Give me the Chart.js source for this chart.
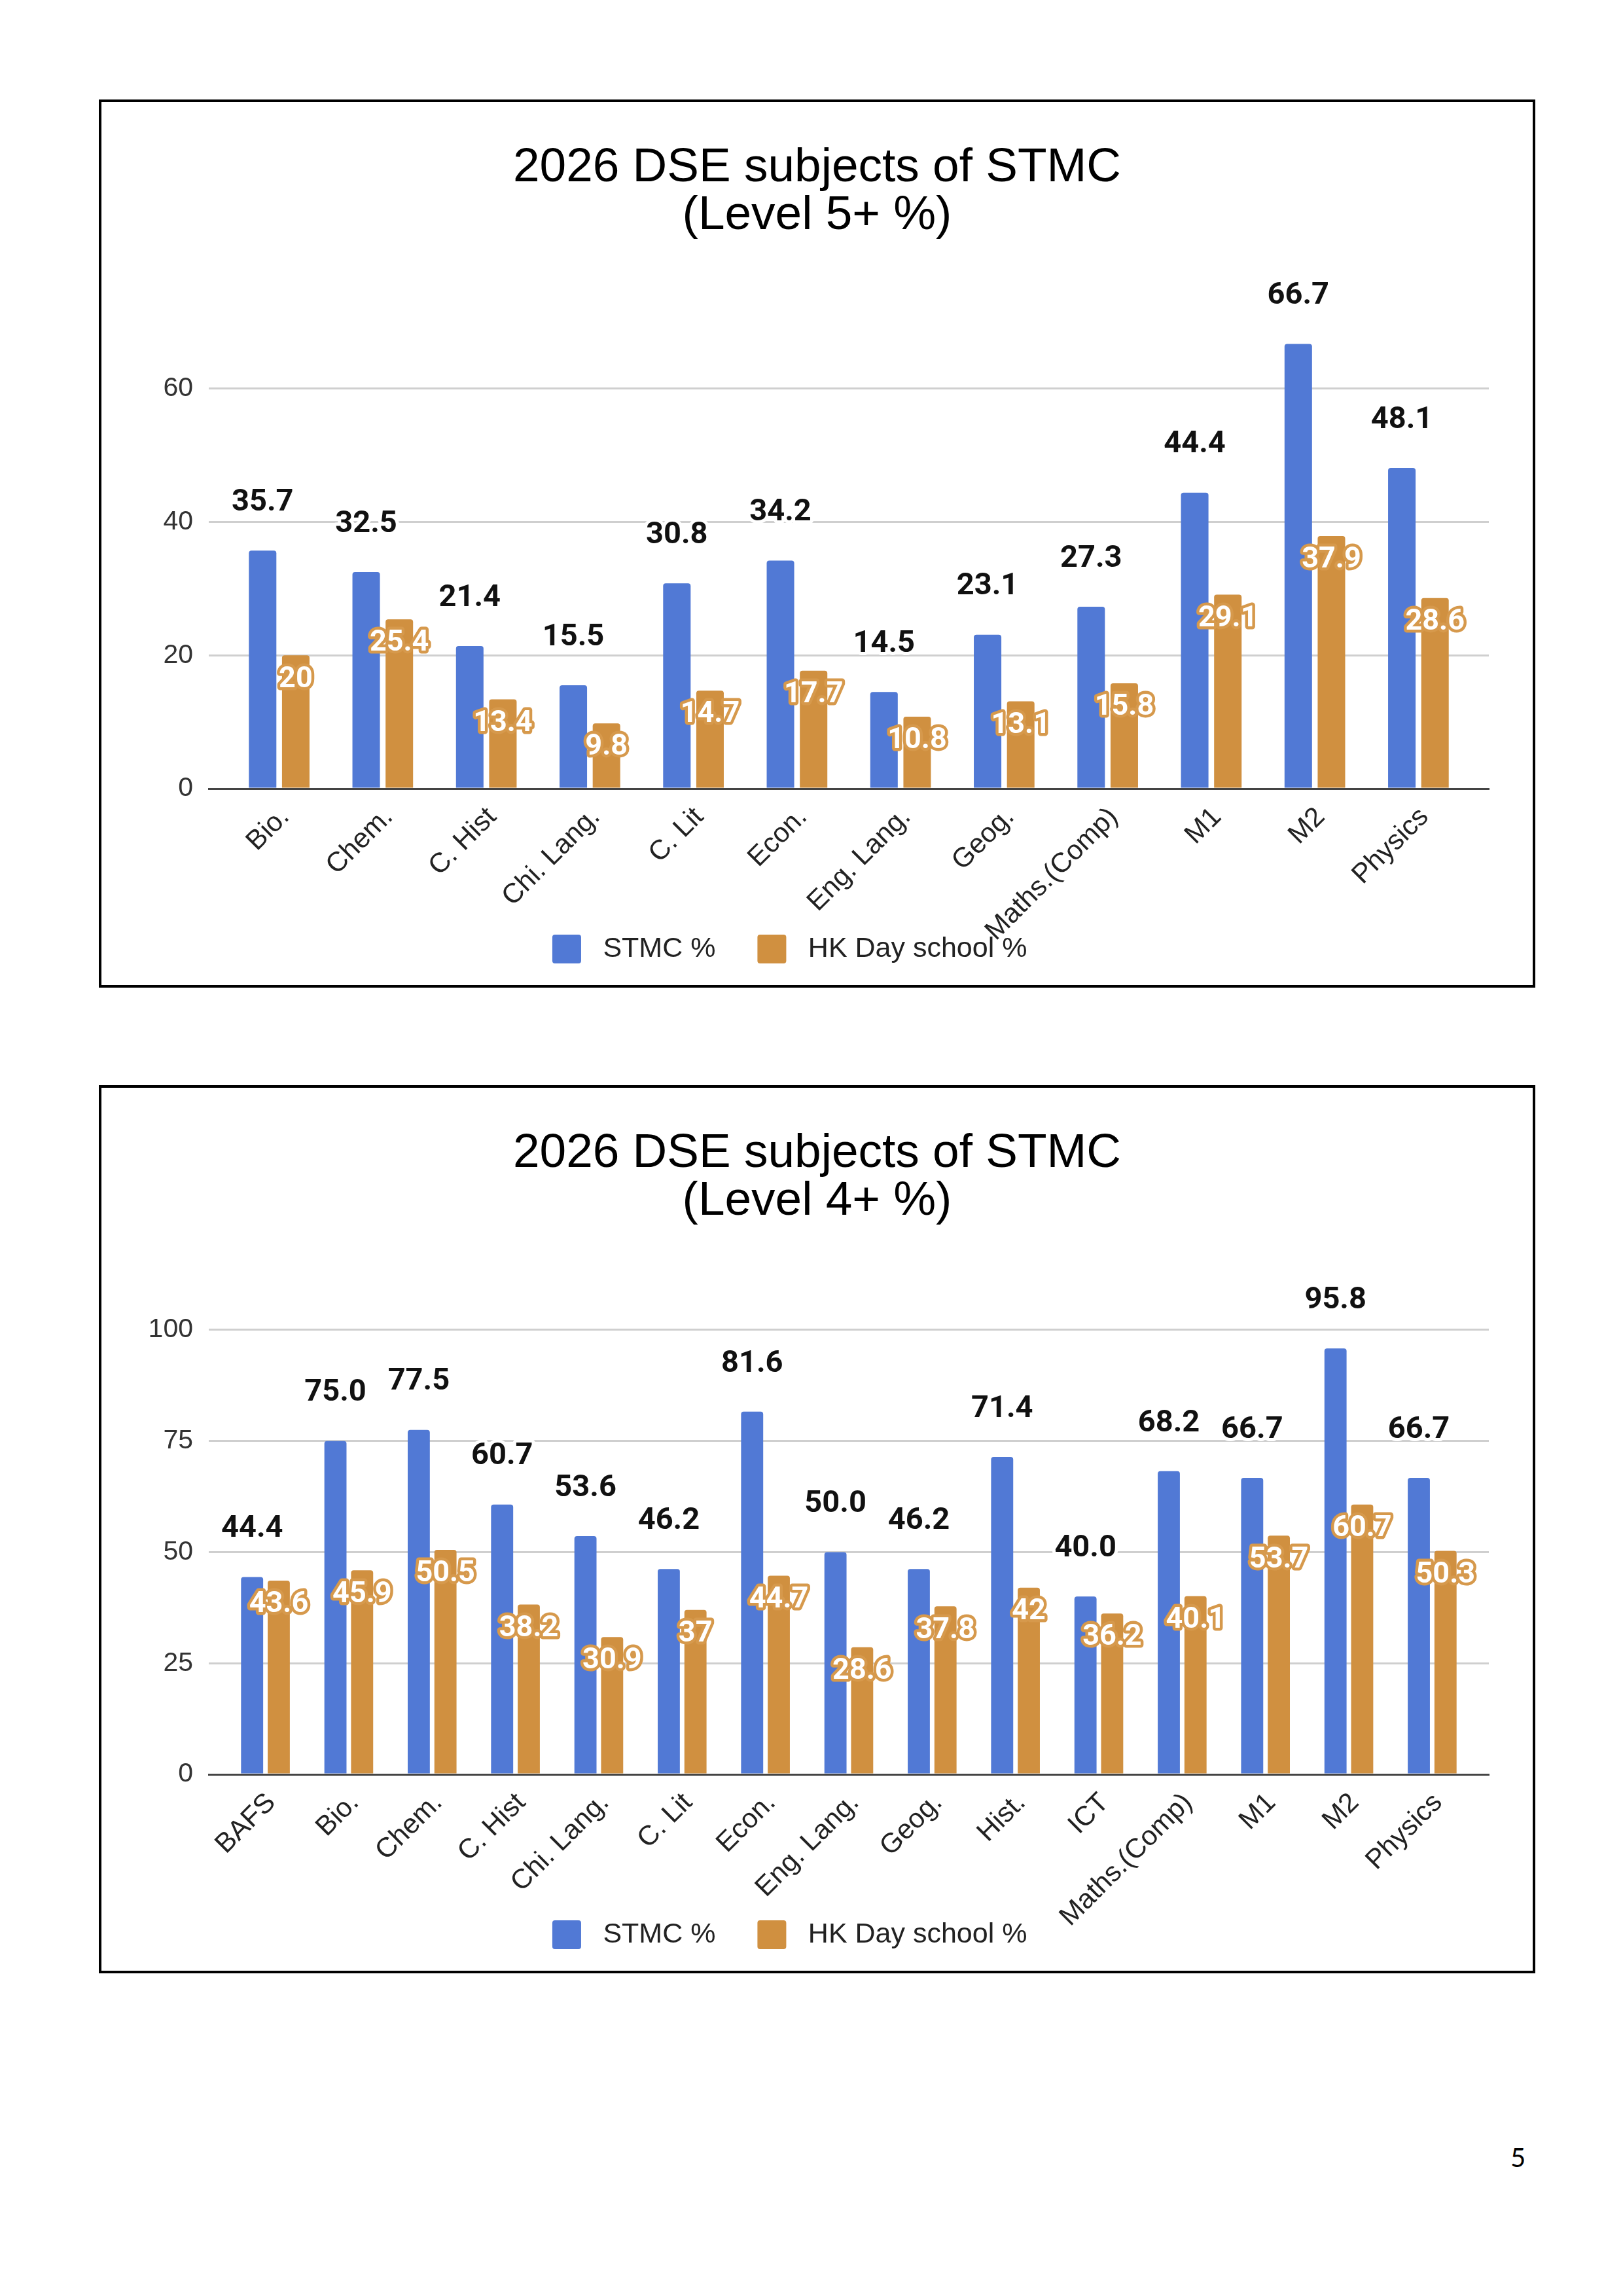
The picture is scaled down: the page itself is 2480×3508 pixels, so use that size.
<!DOCTYPE html>
<html>
<head>
<meta charset="utf-8">
<title>2026 DSE subjects of STMC</title>
<script src="https://cdn.jsdelivr.net/npm/chart.js@4.4.1/dist/chart.umd.min.js"></script>
<style>
  html, body { margin: 0; padding: 0; background: #fff; }
  body { width: 2480px; height: 3508px; position: relative; }
  .box {
    position: absolute;
    left: 151px;
    width: 2195px;
    height: 1357px;
    border: 4px solid #000;
    box-sizing: border-box;
  }
  .box canvas { display: block; }
  #page-no {
    position: absolute;
    left: 2308px;
    top: 3272px;
    font: 40px Lato, "Open Sans", sans-serif;
    color: #000;
  }
</style>
</head>
<body>
<div class="box" style="top:152px"><canvas id="level5Chart" width="2187" height="1349"></canvas></div>
<div class="box" style="top:1658px"><canvas id="level4Chart" width="2187" height="1349"></canvas></div>
<div id="page-no">5</div>

<script>
// Level 5+
const level5Subjects = ['Bio.', 'Chem.', 'C. Hist', 'Chi. Lang.', 'C. Lit', 'Econ.', 'Eng. Lang.', 'Geog.', 'Maths.(Comp)', 'M1', 'M2', 'Physics'];
const level5Stmc = [35.7, 32.5, 21.4, 15.5, 30.8, 34.2, 14.5, 23.1, 27.3, 44.4, 66.7, 48.1];
const level5HkDay = [20, 25.4, 13.4, 9.8, 14.7, 17.7, 10.8, 13.1, 15.8, 29.1, 37.9, 28.6];
const level5Ticks = [0, 20, 40, 60];

// Level 4+
const level4Subjects = ['BAFS', 'Bio.', 'Chem.', 'C. Hist', 'Chi. Lang.', 'C. Lit', 'Econ.', 'Eng. Lang.', 'Geog.', 'Hist.', 'ICT', 'Maths.(Comp)', 'M1', 'M2', 'Physics'];
const level4Stmc = [44.4, 75.0, 77.5, 60.7, 53.6, 46.2, 81.6, 50.0, 46.2, 71.4, 40.0, 68.2, 66.7, 95.8, 66.7];
const level4HkDay = [43.6, 45.9, 50.5, 38.2, 30.9, 37, 44.7, 28.6, 37.8, 42, 36.2, 40.1, 53.7, 60.7, 50.3];
const level4Ticks = [0, 25, 50, 75, 100];

const seriesNames = ['STMC %', 'HK Day school %'];

const BLUE = '#5179d5';
const ORANGE = '#d09040';
const SANS = '"Liberation Sans", Arial, sans-serif';

// 數值標籤 (藍色在柱頂上方, 橘色在柱內)
const barLabels = {
    id: 'barLabels',
    afterLayout(chart) {
        // 讓 x 軸文字可以畫到圖例上 (不被裁切)
        chart.scales.x.bottom = chart.height;
    },
    afterDatasetsDraw(chart) {
        const ctx = chart.ctx;
        ctx.save();
        ctx.textAlign = 'center';
        ctx.textBaseline = 'middle';
        ctx.lineJoin = 'round';
        chart.data.datasets.forEach((ds, di) => {
            const meta = chart.getDatasetMeta(di);
            meta.data.forEach((bar, i) => {
                const v = ds.data[i].y;
                if (di === 0) {
                    const t = v.toFixed(1);
                    ctx.font = 'bold 47px Roboto';
                    ctx.lineWidth = 10;
                    ctx.strokeStyle = '#fff';
                    ctx.strokeText(t, bar.x, bar.y - 73);
                    ctx.fillStyle = '#111';
                    ctx.fillText(t, bar.x, bar.y - 73);
                } else {
                    const t = String(v);
                    ctx.font = 'bold 45px Roboto';
                    ctx.lineWidth = 9;
                    ctx.strokeStyle = '#d6994c';
                    ctx.strokeText(t, bar.x, bar.y + 37);
                    ctx.fillStyle = '#fff';
                    ctx.fillText(t, bar.x, bar.y + 37);
                }
            });
        });
        ctx.restore();
    }
};

function makeChart(canvasId, titleLine2, subjects, stmc, hkDay, yTicks, yMax) {
    const toPoints = arr => arr.map((v, i) => ({ x: i, y: v }));
    const barStyle = {
        yAxisID: 'y',
        borderRadius: { topLeft: 4, topRight: 4 },
        borderSkipped: 'start',
        categoryPercentage: 0.64,
        barPercentage: 0.83
    };
    return new Chart(document.getElementById(canvasId), {
        type: 'bar',
        data: {
            datasets: [
                Object.assign({ label: seriesNames[0], data: toPoints(stmc), backgroundColor: BLUE }, barStyle),
                Object.assign({ label: seriesNames[1], data: toPoints(hkDay), backgroundColor: ORANGE }, barStyle)
            ]
        },
        options: {
            responsive: false,
            animation: false,
            devicePixelRatio: 1,
            layout: { padding: { top: 0, left: 0, right: 0, bottom: 23 } },
            plugins: {
                title: {
                    display: true,
                    text: ['2026 DSE subjects of STMC', titleLine2],
                    color: '#000',
                    font: { family: SANS, size: 73, weight: 'normal', lineHeight: 1 },
                    padding: { top: 64, bottom: 24 }
                },
                legend: {
                    position: 'bottom',
                    labels: {
                        boxWidth: 44,
                        boxHeight: 44,
                        useBorderRadius: true,
                        borderRadius: 4,
                        padding: 64,
                        color: '#222',
                        font: { family: SANS, size: 43 },
                        generateLabels(chart) {
                            const items = Chart.defaults.plugins.legend.labels.generateLabels(chart);
                            items.forEach((it, i) => {
                                it.lineWidth = 0;
                                it.text = ' ' + it.text + (i === items.length - 1 ? '       ' : '');
                            });
                            return items;
                        }
                    }
                },
                tooltip: { enabled: false }
            },
            scales: {
                x: {
                    type: 'linear',
                    offset: false,
                    min: -0.68,
                    max: subjects.length - 1 + 0.68,
                    afterBuildTicks: scale => { scale.ticks = subjects.map((_, i) => ({ value: i })); },
                    afterFit: scale => { scale.height = 159; },
                    grid: { display: false, drawTicks: false },
                    border: { display: true, color: '#444', width: 3 },
                    ticks: {
                        autoSkip: false,
                        minRotation: 45,
                        maxRotation: 45,
                        padding: 19,
                        labelOffset: 9,
                        color: '#222',
                        font: { family: SANS, size: 42 },
                        callback: v => subjects[v] ?? ''
                    }
                },
                y: {
                    min: 0,
                    max: yMax,
                    afterBuildTicks: scale => { scale.ticks = yTicks.map(v => ({ value: v })); },
                    afterFit: scale => { scale.width = 164; },
                    grid: { color: '#cfcfcf', lineWidth: 3, drawTicks: false },
                    border: { display: false },
                    ticks: {
                        padding: 24,
                        color: '#333',
                        font: { family: SANS, size: 41 }
                    }
                },
                // 右側留白
                rightGap: {
                    type: 'linear',
                    position: 'right',
                    afterFit: scale => { scale.width = 67; },
                    grid: { display: false, drawTicks: false },
                    border: { display: false },
                    ticks: { display: false }
                }
            }
        },
        plugins: [barLabels]
    });
}

makeChart('level5Chart', '(Level 5+ %)', level5Subjects, level5Stmc, level5HkDay, level5Ticks, 80);
makeChart('level4Chart', '(Level 4+ %)', level4Subjects, level4Stmc, level4HkDay, level4Ticks, 120);
</script>
</body>
</html>
